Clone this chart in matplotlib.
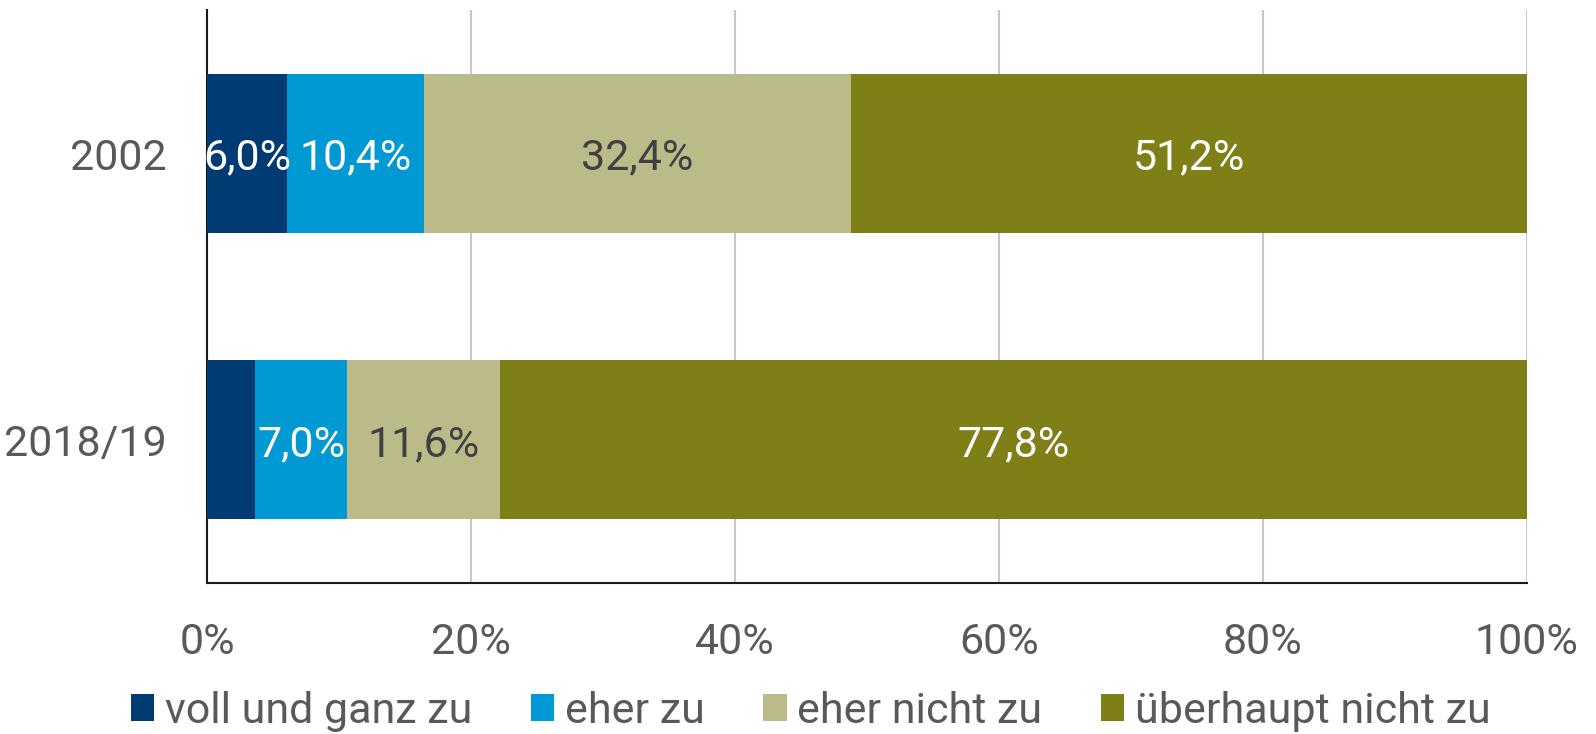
import matplotlib
matplotlib.use("Agg")
import matplotlib.pyplot as plt
import numpy as np

categories = ["2002", "2018/19"]
series_names = ["voll und ganz zu", "eher zu", "eher nicht zu", "überhaupt nicht zu"]
values = {
    "voll und ganz zu": [6.0, 3.6],
    "eher zu": [10.4, 7.0],
    "eher nicht zu": [32.4, 11.6],
    "überhaupt nicht zu": [51.2, 77.8],
}
show_label = {
    "voll und ganz zu": [True, False],
    "eher zu": [True, True],
    "eher nicht zu": [True, True],
    "überhaupt nicht zu": [True, True],
}
colors = ["#003B73", "#0099D4", "#BBBA89", "#7F7F17"]
label_colors = ["white", "white", "#404040", "white"]
xticks = [0, 20, 40, 60, 80, 100]
xticklabels = ["0%", "20%", "40%", "60%", "80%", "100%"]

plt.rcParams['font.family'] = ['Roboto', 'DejaVu Sans']
fs = 31

fig = plt.figure(figsize=(15.96, 7.34), dpi=100)
ax = fig.add_axes([0.130, 0.2057, 0.8266, 0.780])

y = np.arange(len(categories))
left = np.zeros(len(categories))
handles = []
for name, col, lc in zip(series_names, colors, label_colors):
    v = np.array(values[name])
    b = ax.barh(y, v, left=left, height=0.556, color=col, label=name, zorder=3)
    handles.append(b)
    for i in range(len(categories)):
        if show_label[name][i]:
            ax.text(left[i] + v[i] / 2, y[i], f"{v[i]:.1f}%".replace(".", ","),
                    ha="center", va="center_baseline", color=lc, fontsize=fs, zorder=4)
    left += v

ax.set_ylim(1.5, -0.5)
ax.set_xlim(0, 100)
ax.set_yticks(y)
ax.set_yticklabels(categories)
ax.set_xticks(xticks)
ax.set_xticklabels(xticklabels)
ax.tick_params(axis="both", length=0, labelsize=fs, colors="#595959")
ax.tick_params(axis="x", pad=28)
ax.tick_params(axis="y", pad=29)
ax.xaxis.grid(True, color="#C8C8C8", linewidth=1.5, zorder=0)
ax.set_axisbelow(True)
for s in ["top", "right"]:
    ax.spines[s].set_visible(False)
for s in ["left", "bottom"]:
    ax.spines[s].set_color("#1a1a1a")
    ax.spines[s].set_linewidth(1.5)

leg = fig.legend(handles=handles, labels=series_names, loc="center",
                 bbox_to_anchor=(0.508, 0.031), ncol=4, frameon=False,
                 fontsize=fs, handlelength=0.55, handleheight=0.6,
                 handletextpad=0.25, columnspacing=1.35, labelcolor="#595959")

fig.savefig("out.png", dpi=100)
